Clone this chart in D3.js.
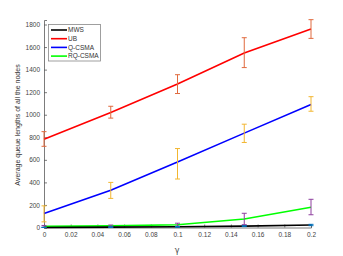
<!DOCTYPE html>
<html><head><meta charset="utf-8">
<script src="https://cdn.jsdelivr.net/npm/d3@7"></script>
<style>body{margin:0;background:#fff}svg{display:block}text{font-family:"Liberation Sans",Arial,sans-serif}</style>
</head><body><svg id="c" width="343" height="256"></svg>
<script>
const gammas = [0, 0.05, 0.1, 0.15, 0.2];
const xTicks = [0, 0.02, 0.04, 0.06, 0.08, 0.1, 0.12, 0.14, 0.16, 0.18, 0.2];
const yTicks = [0, 200, 400, 600, 800, 1000, 1200, 1400, 1600, 1800];
const seriesNames = ["MWS", "UB", "Q-CSMA", "RQ-CSMA"];
const mwsVals = [0, 3, 6, 12, 22];
const mwsLo = [0, 1, 3, 8, 16];
const mwsHi = [2, 6, 9, 16, 28];
const ubVals = [783, 1020, 1272, 1548, 1760];
const ubLo = [720, 970, 1188, 1418, 1677];
const ubHi = [850, 1075, 1355, 1683, 1843];
const qVals = [125, 330, 580, 837, 1090];
const qLo = [50, 258, 430, 754, 1031];
const qHi = [192, 400, 700, 916, 1160];
const rqVals = [10, 14, 25, 75, 180];
const rqLo = [2, 5, 12, 25, 113];
const rqHi = [18, 22, 38, 126, 250];

const lineColors = ["#000000", "#ff0000", "#0000ff", "#00ff00"];
const errColors = ["#0072bd", "#e06a3e", "#f2b630", "#8e3f9e"];

const svg = d3.select("#c");
const x = d3.scaleLinear().domain([0, 0.2]).range([44, 311]);
const y = d3.scaleLinear().domain([0, 1840]).range([227.5, 20]);

const axisColor = "#5a5a5a";
const gx = svg.append("g").attr("transform", "translate(0,227.5)")
  .call(d3.axisBottom(x).tickValues(xTicks).tickSize(-3).tickPadding(5).tickFormat(d => d3.format("~g")(d)));
const gy = svg.append("g").attr("transform", "translate(44,0)")
  .call(d3.axisLeft(y).tickValues(yTicks).tickSize(-3).tickPadding(4).tickFormat(d3.format("d")));
[gx, gy].forEach(g => {
  g.select(".domain").attr("stroke", axisColor).attr("stroke-width", 0.8);
  g.selectAll(".tick line").attr("stroke", axisColor).attr("stroke-width", 0.8);
  g.selectAll(".tick text").attr("fill", "#444").style("font-size", "6.5px");
});

const all = [
  {vals: mwsVals, lo: mwsLo, hi: mwsHi},
  {vals: ubVals, lo: ubLo, hi: ubHi},
  {vals: qVals, lo: qLo, hi: qHi},
  {vals: rqVals, lo: rqLo, hi: rqHi}
];
const line = d3.line().x((d, i) => x(gammas[i])).y(d => y(d));
[1, 2, 3, 0].forEach(k => {
  const s = all[k];
  svg.append("path").attr("d", line(s.vals)).attr("fill", "none")
    .attr("stroke", lineColors[k]).attr("stroke-width", 1.6);
});
[1, 2, 3, 0].forEach(k => {
  const s = all[k];
  const g = svg.append("g").attr("stroke", errColors[k]).attr("stroke-width", 1);
  gammas.forEach((gm, i) => {
    const cx = x(gm), w = 2.5;
    g.append("line").attr("x1", cx).attr("x2", cx).attr("y1", y(s.lo[i])).attr("y2", y(s.hi[i]));
    g.append("line").attr("x1", cx - w).attr("x2", cx + w).attr("y1", y(s.lo[i])).attr("y2", y(s.lo[i]));
    g.append("line").attr("x1", cx - w).attr("x2", cx + w).attr("y1", y(s.hi[i])).attr("y2", y(s.hi[i]));
  });
});

const lg = svg.append("g");
lg.append("rect").attr("x", 48.5).attr("y", 24.5).attr("width", 52).attr("height", 36.5)
  .attr("fill", "#fff").attr("stroke", "#888").attr("stroke-width", 0.8);
seriesNames.forEach((n, i) => {
  const yy = 30 + i * 8.7;
  lg.append("line").attr("x1", 51).attr("x2", 67).attr("y1", yy).attr("y2", yy)
    .attr("stroke", lineColors[i]).attr("stroke-width", 1.6);
  lg.append("text").attr("x", 68).attr("y", yy + 2.3).text(n)
    .style("font-size", "6.5px").attr("fill", "#333");
});

svg.append("text").attr("transform", "translate(20,125) rotate(-90)")
  .attr("text-anchor", "middle").style("font-size", "7px").attr("fill", "#333")
  .text("Average queue lengths of all the nodes");
svg.append("text").attr("x", 177).attr("y", 253).attr("text-anchor", "middle")
  .style("font-size", "8px").style("fill", "#444").style("font-family", "'DejaVu Sans',sans-serif").text("γ");
</script></body></html>
